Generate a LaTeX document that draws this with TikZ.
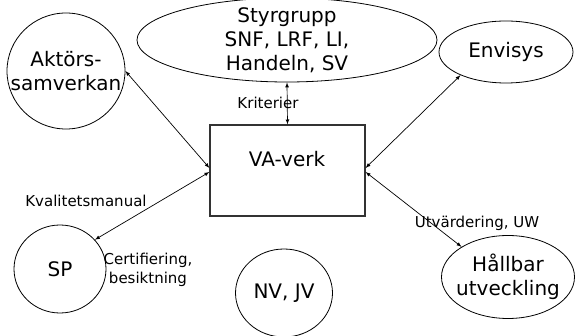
\documentclass[tikz,border=0pt]{standalone}
\usepackage{fontspec}
\setmainfont{DejaVu Sans}
\usetikzlibrary{shapes.geometric}
\begin{document}
\begin{tikzpicture}[>=latex,x=1pt,y=-1pt,
        blob/.style={draw,ellipse,line width=0.8pt,inner sep=0pt},
        big/.style={font=\fontsize{20}{24}\selectfont,align=center,inner sep=0pt},
        small/.style={font=\fontsize{15}{18.5}\selectfont,align=center,inner sep=0pt},
        link/.style={<->,line width=0.7pt}]
        \useasboundingbox(0,0)rectangle(576,336);
        % actors round the works
        \node[blob,minimum width=118pt,minimum height=116pt,label={[big]center:{Aktörs-\\samverkan}}](aktor)at(66,71){};
        \node[blob,minimum width=300pt,minimum height=84pt,label={[big]center:{Styrgrupp\\SNF, LRF, LI,\\Handeln, SV}}](styr)at(287,40){};
        \node[blob,minimum width=134pt,minimum height=62pt,label={[big]center:Envisys}](envi)at(506,52){};
        \node[blob,minimum width=92pt,minimum height=88pt,label={[big]center:SP}](sp)at(60,269){};
        \node[blob,minimum width=97pt,minimum height=88pt,label={[big]center:{NV, JV}}](nvjv)at(284,293){};
        \node[blob,minimum width=133pt,minimum height=83pt,label={[big]center:{Hållbar\\utveckling}}](hall)at(508,277){};
        % the works itself
        \node[draw=black!80,line width=1.2pt,minimum width=155pt,minimum height=91pt,inner sep=0pt](va)at(287.5,170.5){};
        \node[big](vatext)at(287,159){VA-verk};
        % links
        \draw[link](styr.south)--(va.north);
        \draw[link](aktor.east)--([yshift=2.5pt]va.west);
        \draw[link](sp.40)--([yshift=-1.5pt]va.west);
        \draw[link](envi.207)--([yshift=2.5pt]va.east);
        \draw[link](hall.147)--([yshift=-1.5pt]va.east);
        % link texts
        \node[small](krit)at(268,103){Kriterier};
        \node[small](kval)at(86,201){Kvalitetsmanual};
        \node[small](cert)at(148,270){Certifiering,\\besiktning};
        \node[small](utv)at(477,223){Utvärdering, UW};
    \end{tikzpicture}
\end{document}
